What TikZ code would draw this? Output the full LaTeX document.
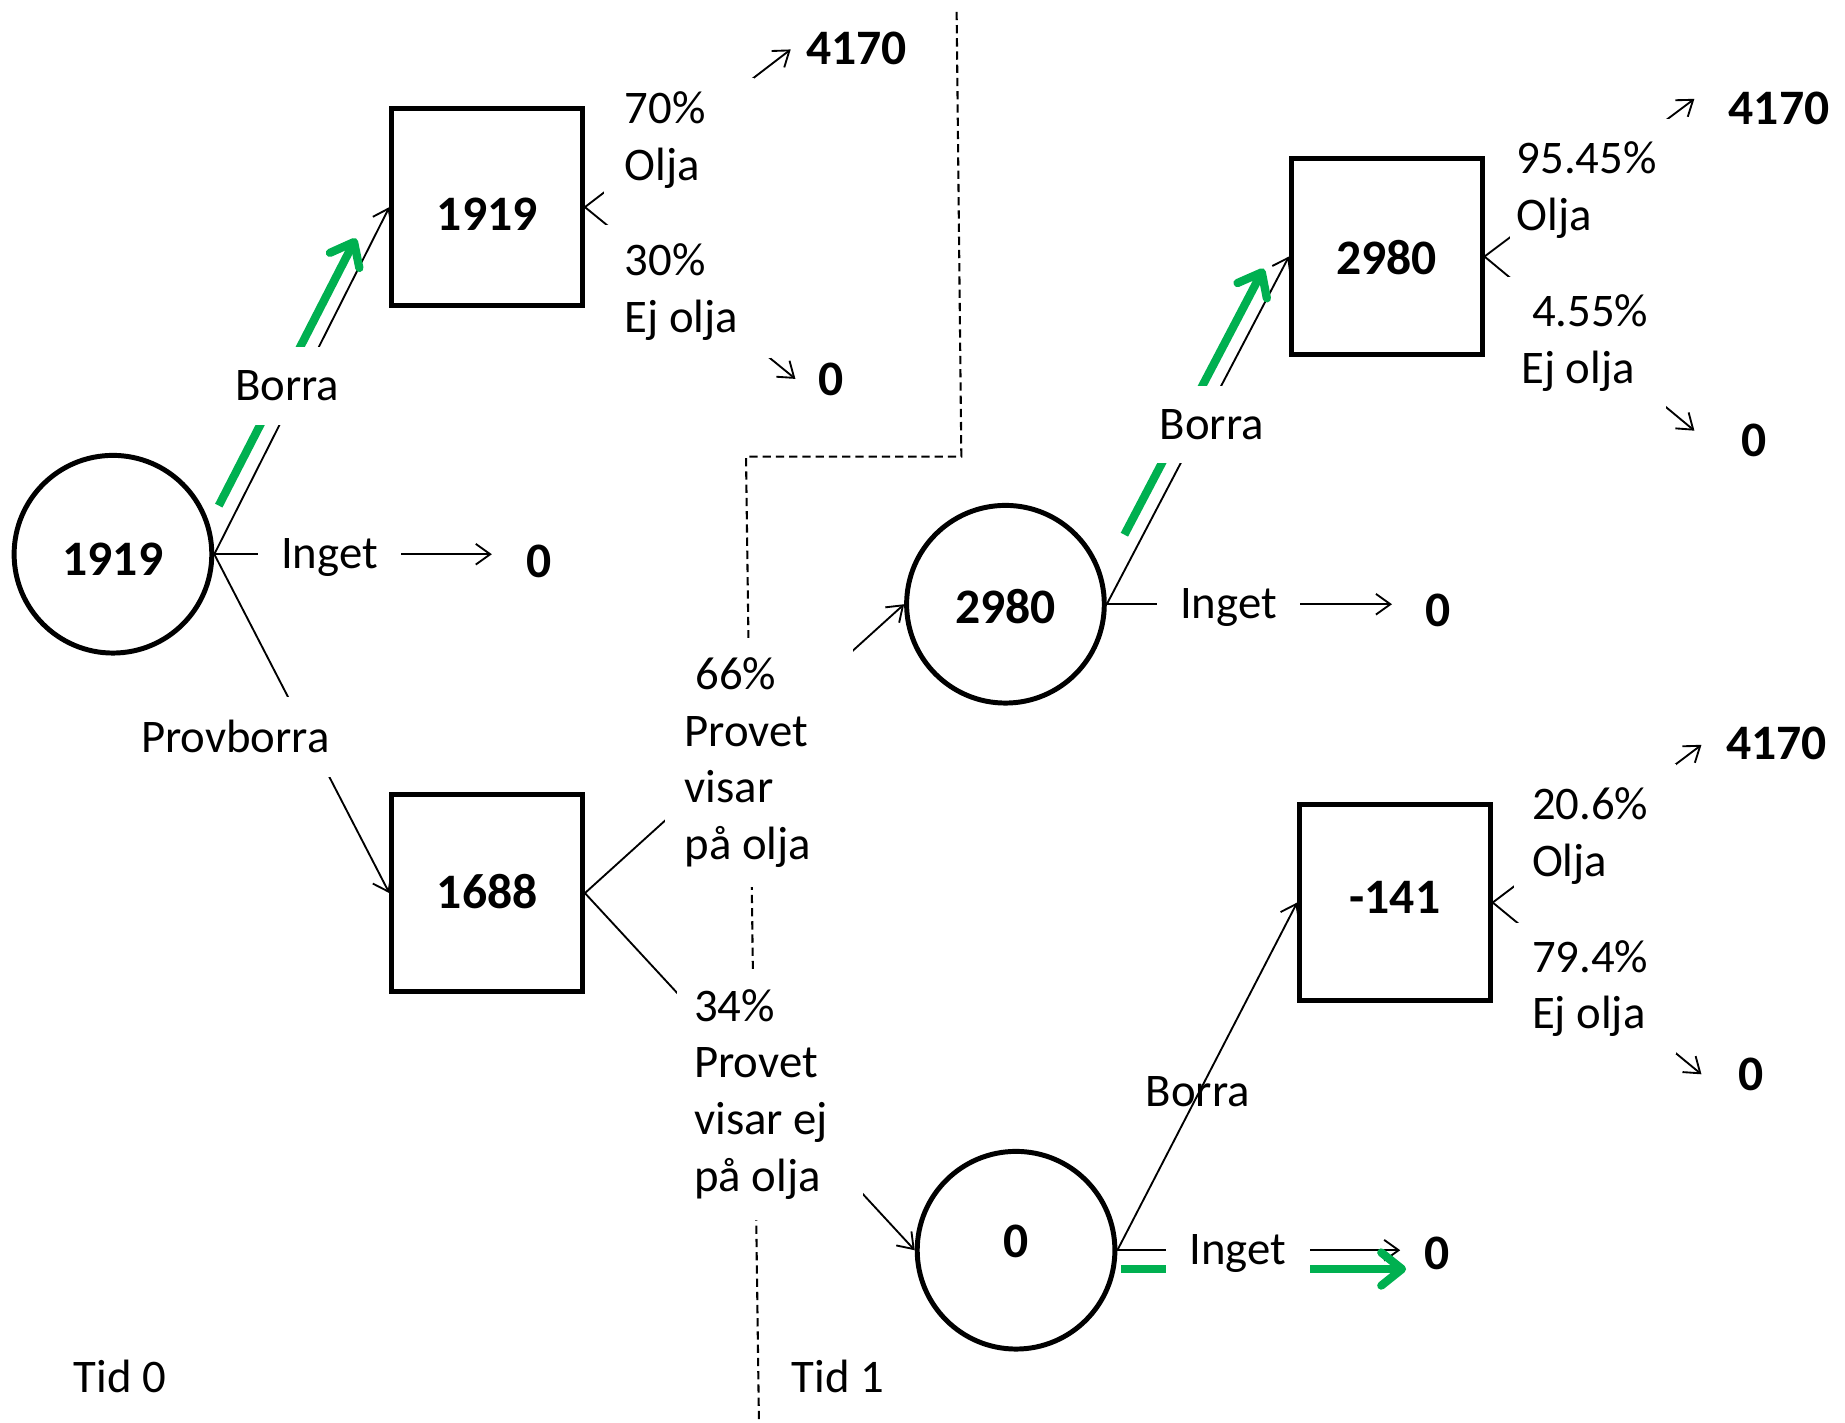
\documentclass[tikz,border=0pt]{standalone}
\usepackage{fontspec}
\setmainfont{Carlito}
\usepackage{xcolor}
\definecolor{bestGreen}{RGB}{0, 176, 80}
\usepackage{tikz}
\usetikzlibrary{
    arrows.meta,
    positioning,
    backgrounds,
    calc
}

\begin{document}
\begin{tikzpicture}[
    font={\fontsize{11.3}{13.7}\selectfont},
    chanceNode/.style={
        circle,
        draw, line width=1.2pt,
        minimum size=1.68cm, inner sep=0pt,
        text height=0.27cm, text depth=0pt,
        font={\fontsize{12}{14}\selectfont\bfseries}
    },
    decisionNode/.style={
        rectangle,
        draw, line width=1.2pt,
        minimum width=1.62cm, minimum height=1.67cm, inner sep=0pt,
        text height=0.27cm, text depth=0pt,
        font={\fontsize{12}{14}\selectfont\bfseries}
    },
    payoff/.style={
        font={\fontsize{12}{14}\selectfont\bfseries}
    },
    cutLabel/.style={
        fill=white, inner sep=0.2cm
    },
    probLabel/.style={
        fill=white, align=flush left, inner ysep=0pt
    },
    treeArrow/.style={
        -{Straight Barb[length=3.5pt, width=5pt]}, line width=0.45pt
    },
    bestPath/.style={
        -{Straight Barb[length=5pt, width=8pt, round]}, line width=2pt, draw=bestGreen
    },
    timeLine/.style={
        line width=0.5pt, dash pattern=on 2pt off 1.2pt
    }
]
    \useasboundingbox (0,0) rectangle (15.68,-12.09);

    % Tid 0: first decision and test
    \node[chanceNode, text height=0.37cm] (root) at (0.96,-4.71) {1919};
    \node[decisionNode, text height=0.39cm] (drill) at (4.14,-1.76) {1919};
    \node[decisionNode] (test) at (4.14,-7.59) {1688};

    % Tid 1: after the test
    \node[chanceNode, text height=0.32cm] (posTest) at (8.545,-5.135) {2980};
    \node[decisionNode, text height=0.31cm] (posDrill) at (11.785,-2.18) {2980};
    \node[chanceNode, text depth=0.14cm] (negTest) at (8.635,-10.625) {0};
    \node[decisionNode, text depth=0.08cm] (negDrill) at (11.855,-7.67) {-141};

    % Payoffs
    \node[payoff] (oilA) at (7.28,-0.41) {4170};
    \node[payoff] (dryA) at (7.06,-3.22) {0};
    \node[payoff] (noneA) at (4.58,-4.77) {0};
    \node[payoff] (oilB) at (15.12,-0.92) {4170};
    \node[payoff] (dryB) at (14.91,-3.74) {0};
    \node[payoff] (noneB) at (12.22,-5.19) {0};
    \node[payoff] (oilC) at (15.10,-6.32) {4170};
    \node[payoff] (dryC) at (14.88,-9.13) {0};
    \node[payoff] (noneC) at (12.21,-10.65) {0};

    \coordinate (oilAtip) at (6.72,-0.42);
    \coordinate (dryAtip) at (6.76,-3.22);
    \coordinate (noneAtip) at (4.18,-4.71);
    \coordinate (oilBtip) at (14.40,-0.84);
    \coordinate (dryBtip) at (14.40,-3.66);
    \coordinate (noneBtip) at (11.83,-5.135);
    \coordinate (oilCtip) at (14.46,-6.33);
    \coordinate (dryCtip) at (14.46,-9.13);
    \coordinate (noneCtip) at (11.90,-10.625);

    % Branch labels
    \node[cutLabel] (borraA) at (2.44,-3.28) {Borra};
    \node[cutLabel] (ingetA) at (2.80,-4.74) {Inget};
    \node[cutLabel] (provborra) at (2.00,-6.26) {Provborra};
    \node[probLabel, inner xsep=0.18cm, text width=0.92cm, minimum height=1.06cm] (oljaA) at (5.77,-1.19) {70\%\\Olja};
    \node[probLabel, inner xsep=0.18cm, text width=1.06cm, minimum height=1.13cm] (ejOljaA) at (5.84,-2.48) {30\%\\Ej olja};
    \node[probLabel, inner xsep=0.17cm, text width=1.26cm, minimum height=2.12cm] (posLabel) at (6.45,-6.48) {\hspace*{0.09cm}66\%\\Provet\\visar\\på olja};
    \node[probLabel, inner xsep=0.15cm, text width=1.28cm, minimum height=2.13cm] (negLabel) at (6.54,-9.30) {34\%\\Provet\\visar ej\\på olja};

    \node[cutLabel] (borraB) at (10.30,-3.61) {Borra};
    \node[cutLabel] (ingetB) at (10.44,-5.16) {Inget};
    \node[probLabel, inner xsep=0.06cm, text width=1.26cm, minimum height=1.21cm] (oljaB) at (13.52,-1.615) {95.45\%\\Olja};
    \node[probLabel, inner xsep=0.13cm, text width=1.10cm, minimum height=1.13cm] (ejOljaB) at (13.48,-2.915) {\hspace*{0.09cm}4.55\%\\Ej olja};

    \node (borraC) at (10.18,-9.28) {Borra};
    \node[cutLabel] (ingetC) at (10.52,-10.65) {Inget};
    \node[probLabel, inner xsep=0.15cm, text width=1.07cm, minimum height=1.23cm] (oljaC) at (13.555,-7.105) {20.6\%\\Olja};
    \node[probLabel, inner xsep=0.15cm, text width=1.07cm, minimum height=1.12cm] (ejOljaC) at (13.555,-8.40) {79.4\%\\Ej olja};

    % Time marks
    \node (tid0) at (1.02,-11.70) {Tid 0};
    \node (tid1) at (7.12,-11.70) {Tid 1};

    \begin{scope}[on background layer]
        % Time divider
        \draw[timeLine] (8.13,-0.10) -- (8.17,-3.88) -- (6.34,-3.88) -- (6.45,-12.09);

        % Tid 0 branches
        \draw[treeArrow] (root.east) -- (drill.west);
        \draw[treeArrow] (root.east) -- (noneAtip);
        \draw[treeArrow] (root.east) -- (test.west);
        \draw[treeArrow] (drill.east) -- (oilAtip);
        \draw[treeArrow] (drill.east) -- (dryAtip);
        \draw[treeArrow] (test.east) -- (posTest.west);
        \draw[treeArrow] (test.east) -- (negTest.west);

        % Tid 1 branches
        \draw[treeArrow] (posTest.east) -- (posDrill.west);
        \draw[treeArrow] (posTest.east) -- (noneBtip);
        \draw[treeArrow] (posDrill.east) -- (oilBtip);
        \draw[treeArrow] (posDrill.east) -- (dryBtip);
        \draw[treeArrow] (negTest.east) -- (negDrill.west);
        \draw[treeArrow] (negTest.east) -- (noneCtip);
        \draw[treeArrow] (negDrill.east) -- (oilCtip);
        \draw[treeArrow] (negDrill.east) -- (dryCtip);

        % Optimal choices
        \draw[bestPath] ($(root.east)!0.14!(drill.west)+(-0.17,0)$) -- ($(root.east)!0.91!(drill.west)+(-0.15,0)$);
        \draw[bestPath] ($(posTest.east)!0.2!(posDrill.west)+(-0.16,0)$) -- ($(posTest.east)!0.965!(posDrill.west)+(-0.16,0)$);
        \draw[bestPath] ($(negTest.east)+(0.03,-0.16)$) -- ($(noneCtip)+(0.05,-0.16)$);
    \end{scope}

\end{tikzpicture}
\end{document}
